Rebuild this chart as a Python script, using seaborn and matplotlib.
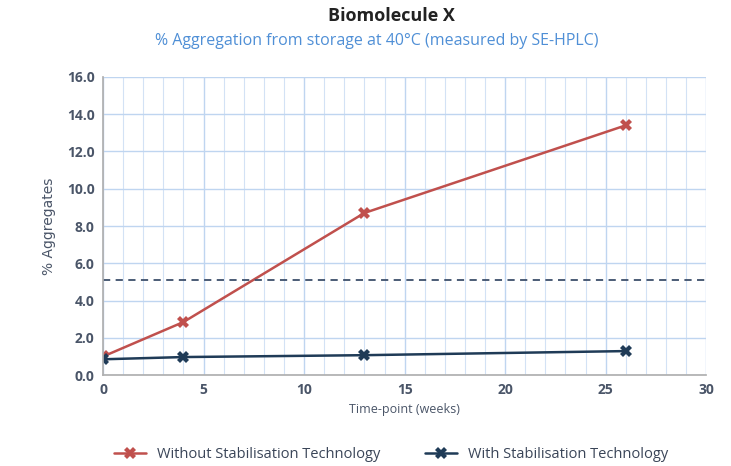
import numpy as np
import pandas as pd
import matplotlib.pyplot as plt
import seaborn as sns
from matplotlib.ticker import MultipleLocator

# Datos
semanas = [0, 4, 13, 26]
sin_estab = [1.0, 2.85, 8.7, 13.4]
con_estab = [0.85, 0.97, 1.07, 1.29]
series = ["Without Stabilisation Technology", "With Stabilisation Technology"]
umbral = 5.1

df = pd.DataFrame({
    "semana": semanas * 2,
    "agregados": sin_estab + con_estab,
    "serie": [series[0]] * 4 + [series[1]] * 4,
})

sns.set_theme(style="white", rc={"grid.color": "#c5d9f1"})
plt.rcParams["font.family"] = ["Open Sans", "DejaVu Sans"]

fig = plt.figure(figsize=(7.31, 4.66), dpi=100)
ax = fig.add_axes([0.141, 0.195, 0.825, 0.64])

colores = {series[0]: "#c0504d", series[1]: "#1f3b57"}
sns.lineplot(data=df, x="semana", y="agregados", hue="serie", palette=colores,
             marker="X", markersize=9, markeredgewidth=0, linewidth=1.8, ax=ax, legend=False)

ax.axhline(umbral, color="#3d4f6b", linestyle=(0, (4, 3)), linewidth=1.3)

ax.set_xlim(0, 30)
ax.set_ylim(0, 16)
ax.xaxis.set_major_locator(MultipleLocator(5))
ax.xaxis.set_minor_locator(MultipleLocator(1))
ax.yaxis.set_major_locator(MultipleLocator(2))
ax.grid(which="major", axis="both", color="#bfd5f0", linewidth=1.0)
ax.grid(which="minor", axis="x", color="#d3e2f5", linewidth=0.8)
ax.set_axisbelow(True)
ax.yaxis.set_major_formatter(plt.FuncFormatter(lambda v, p: f"{v:.1f}"))

for lado in ["top", "right"]:
    ax.spines[lado].set_visible(False)
for lado in ["left", "bottom"]:
    ax.spines[lado].set_color("#b0b0b0")
ax.tick_params(axis="both", which="both", labelsize=10, colors="#4a5568", length=0, pad=6)
for t in ax.get_xticklabels() + ax.get_yticklabels():
    t.set_fontweight("bold")

ax.set_xlabel("Time-point (weeks)", fontsize=9, color="#4a5568", labelpad=4)
ax.set_ylabel("% Aggregates", fontsize=10, color="#4a5568", labelpad=8,
              family=["Liberation Sans Narrow", "DejaVu Sans"])

fig.text(0.535, 0.965, "Biomolecule X", ha="center", va="center", fontsize=13,
         fontweight="bold", color="#222222")
fig.text(0.515, 0.912, "% Aggregation from storage at 40°C (measured by SE-HPLC)",
         ha="center", va="center", fontsize=11.5, color="#4f8fd6")

manejadores = [plt.Line2D([], [], color=colores[s], marker="X", markersize=8,
                          markeredgewidth=0, linewidth=1.8) for s in series]
fig.legend(manejadores, series, loc="center", bbox_to_anchor=(0.535, 0.025),
           ncol=2, frameon=False, fontsize=10.5, handlelength=2.2, columnspacing=3,
           labelcolor="#3a4558")

fig.savefig("out.png", dpi=100)
